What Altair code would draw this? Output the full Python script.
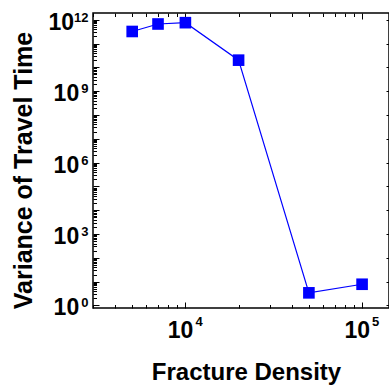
import altair as alt
import pandas as pd

# data
fracture_density = [5000, 7000, 10000, 20000, 50000, 100000]
travel_time_variance = [3.2e11, 6.6e11, 7.5e11, 2.0e10, 3.4, 7.8]

# axis ticks
x_label_ticks = [1e4, 1e5]
x_minor_ticks = [3000, 4000, 5000, 6000, 7000, 8000, 9000,
                 20000, 30000, 40000, 50000, 60000, 70000, 80000, 90000]
y_label_ticks = [1, 1e3, 1e6, 1e9, 1e12]
y_label_ticks_one_digit = [1, 1e3, 1e6, 1e9]
y_label_ticks_two_digit = [1e12]
y_major_ticks = [10.0 ** k for k in range(13)]
y_minor_ticks = [m * 10.0 ** k for k in range(12) for m in range(2, 10)]

df = pd.DataFrame({"x": fracture_density, "y": travel_time_variance})

FONT = "Liberation Sans"
BLUE = "#0000FF"

x_scale = alt.Scale(type="log", domain=[3000, 142000], nice=False)
y_scale = alt.Scale(type="log", domain=[0.785, 1.91e12], nice=False)

E = "round(log(datum.value)/LN10)"
exp_expr = f"format({E}, 'd')"

common_label = dict(labelFont=FONT, labelFontWeight="bold", labelColor="black",
                    ticks=False, domain=False, grid=False)

x_main_axis = alt.Axis(
    orient="bottom", values=x_label_ticks, labelExpr="'10'",
    labelFontSize=23, labelAlign="right", labelBaseline="alphabetic",
    labelPadding=29.8, labelOffset=7.5,
    title="Fracture Density", titleFont=FONT, titleFontSize=24,
    titleFontWeight="bold", titleColor="black", titleX=153, titleY=71.5,
    titleBaseline="alphabetic", titleAlign="center",
    **common_label,
)
x_exp_axis = alt.Axis(
    orient="bottom", values=x_label_ticks, labelExpr=exp_expr,
    labelFontSize=13, labelAlign="left", labelBaseline="alphabetic",
    labelPadding=17.5, labelOffset=9.5, title=None,
    **common_label,
)
y_main_axis = alt.Axis(
    orient="left", values=y_label_ticks_one_digit, labelExpr="'10'",
    labelFontSize=23, labelAlign="right", labelBaseline="alphabetic",
    labelPadding=14.3, labelOffset=9.5,
    title="Variance of Travel Time", titleFont=FONT, titleFontSize=25,
    titleFontWeight="bold", titleColor="black", titleX=-62, titleY=157,
    titleAngle=270, titleBaseline="alphabetic", titleAlign="center",
    **common_label,
)
y_main_axis_12 = alt.Axis(
    orient="left", values=y_label_ticks_two_digit, labelExpr="'10'",
    labelFontSize=23, labelAlign="right", labelBaseline="alphabetic",
    labelPadding=19.5, labelOffset=9.5, title=None,
    **common_label,
)
y_exp_axis = alt.Axis(
    orient="left", values=y_label_ticks, labelExpr=exp_expr,
    labelFontSize=13, labelAlign="right", labelBaseline="alphabetic",
    labelPadding=5, labelOffset=1.5, title=None,
    **common_label,
)


def tick_axis(orient, values, size):
    return alt.Axis(orient=orient, values=values, offset=-size, tickSize=size,
                    tickColor="black", tickWidth=1, labels=False, domain=False,
                    grid=False, title=None)


base = alt.Chart(df)

line = base.mark_line(color=BLUE, strokeWidth=1.2).encode(
    x=alt.X("x:Q", scale=x_scale, axis=x_main_axis),
    y=alt.Y("y:Q", scale=y_scale, axis=y_main_axis),
)
points = base.mark_square(size=135, color=BLUE, opacity=1).encode(
    x=alt.X("x:Q", scale=x_scale, axis=x_exp_axis),
    y=alt.Y("y:Q", scale=y_scale, axis=y_exp_axis),
)

ticks_major = base.mark_point(opacity=0).encode(
    x=alt.X("x:Q", scale=x_scale, axis=tick_axis("bottom", x_label_ticks, 6)),
    y=alt.Y("y:Q", scale=y_scale, axis=tick_axis("left", y_major_ticks, 6)),
)
ticks_minor = base.mark_point(opacity=0).encode(
    x=alt.X("x:Q", scale=x_scale, axis=tick_axis("bottom", x_minor_ticks, 3.5)),
    y=alt.Y("y:Q", scale=y_scale, axis=tick_axis("left", y_minor_ticks, 3.5)),
)
ticks_top_major = base.mark_point(opacity=0).encode(
    x=alt.X("x:Q", scale=x_scale, axis=tick_axis("top", x_label_ticks, 6)),
    y=alt.Y("y:Q", scale=y_scale, axis=tick_axis("right", y_major_ticks, 3)),
)
ticks_top_minor = base.mark_point(opacity=0).encode(
    x=alt.X("x:Q", scale=x_scale, axis=tick_axis("top", x_minor_ticks, 3.5)),
    y=alt.Y("y:Q", scale=y_scale, axis=y_main_axis_12),
)

chart = (
    alt.layer(line, points, ticks_major, ticks_minor, ticks_top_major, ticks_top_minor)
    .resolve_axis(x="independent", y="independent")
    .properties(
        width=296, height=295,
        padding={"left": 93, "top": 13, "right": 0, "bottom": 78},
        autosize=alt.AutoSizeParams(type="none"),
        background="white",
    )
    .configure_view(stroke="black", strokeWidth=1.5)
)

chart.save("out.html", embed_options={"renderer": "svg", "actions": False})
